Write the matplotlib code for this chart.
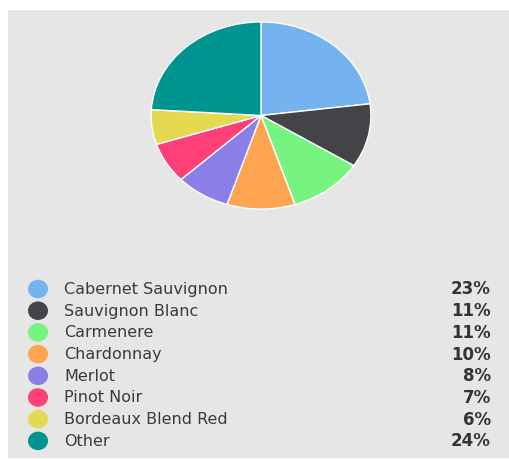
import numpy as np
import matplotlib.pyplot as plt
from matplotlib.patches import Rectangle, Ellipse

W, H = 510, 459

labels = ["Cabernet Sauvignon", "Sauvignon Blanc", "Carmenere", "Chardonnay",
          "Merlot", "Pinot Noir", "Bordeaux Blend Red", "Other"]
shares = [23, 11, 11, 10, 8, 7, 6, 24]
colors = ["#75b2f0", "#444448", "#77f47f", "#ffa552",
          "#8a7fe8", "#fe3f78", "#e5d951", "#009490"]

fig = plt.figure(figsize=(W / 100, H / 100), dpi=100)
fig.patch.set_facecolor("white")

# grey panel behind everything
bg = fig.add_axes([0, 0, 1, 1])
bg.set_xlim(0, W)
bg.set_ylim(H, 0)
bg.axis("off")
bg.add_patch(Rectangle((8, 10), W - 8, 448, facecolor="#e6e6e6", edgecolor="none"))

# pie, squashed a little vertically
cx, cy, rx, ry = 261, 115.5, 111, 94.5
pax = fig.add_axes([(cx - rx) / W, (H - cy - ry) / H, 2 * rx / W, 2 * ry / H])
pax.pie(shares, colors=colors, startangle=90, counterclock=False,
        wedgeprops=dict(edgecolor="white", linewidth=1))
pax.set_aspect("auto")
pax.set_xlim(-1.01, 1.01)
pax.set_ylim(-1.01, 1.01)
pax.axis("off")

# legend rows
y0, dy = 289, 21.7
for i, (lab, val, col) in enumerate(zip(labels, shares, colors)):
    y = y0 + i * dy
    bg.add_patch(Ellipse((38, y), 20, 18.5, facecolor=col, edgecolor="none"))
    bg.text(64, y + 0.5, lab, fontsize=11.5, color="#3a3a3a", va="center", ha="left")
    bg.text(491, y + 0.5, "%d%%" % val, fontsize=12, fontweight="bold", color="#333333",
            va="center", ha="right")

plt.savefig("out.png", dpi=100)
